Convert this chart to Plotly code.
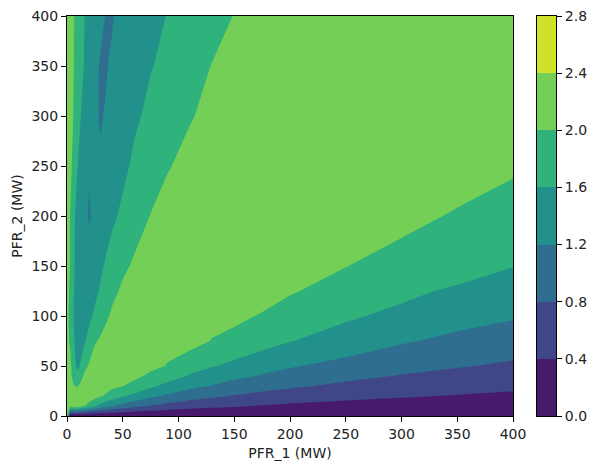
import plotly.graph_objects as go

# grid (MW)
pfr1_mw = [0, 3, 6, 9, 12, 16, 20, 25, 30, 35, 40, 50, 60, 75, 90,
           110, 130, 150, 175, 200, 250, 300, 350, 400]
pfr2_mw = [0, 10, 20, 30, 40, 50, 75, 100, 125, 150, 200, 250, 300, 350, 400]

# estimated value at each grid node, one row per PFR_2 value
z_rows = [
    [2.1, 0, 0, 0, 0, 0, 0, 0, 0, 0, 0, 0, 0, 0, 0, 0, 0, 0, 0, 0, 0, 0, 0, 0],
    [2.15, 2.1, 2.27, 2.26, 2.15, 2.02, 1.82, 1.64, 1.48, 1.34, 1.24, 1.05,
     0.92, 0.78, 0.67, 0.56, 0.49, 0.44, 0.38, 0.33, 0.27, 0.22, 0.19, 0.17],
    [2.15, 2.15, 2.1, 2.15, 2.27, 2.28, 2.25, 2.13, 2.04, 1.95, 1.82, 1.64,
     1.53, 1.29, 1.14, 0.98, 0.87, 0.78, 0.68, 0.61, 0.51, 0.44, 0.38, 0.33],
    [2.15, 2.1, 2.02, 1.98, 2.05, 2.22, 2.3, 2.27, 2.25, 2.16, 2.09, 2.01,
     1.82, 1.68, 1.48, 1.30, 1.18, 1.05, 0.94, 0.86, 0.72, 0.61, 0.54, 0.48],
    [2.15, 2.08, 1.88, 1.7, 1.88, 2.08, 2.2, 2.28, 2.28, 2.26, 2.25, 2.13,
     2.14, 1.88, 1.80, 1.57, 1.41, 1.29, 1.17, 1.05, 0.90, 0.78, 0.68, 0.61],
    [2.15, 2.1, 1.75, 1.52, 1.62, 1.9, 2.05, 2.25, 2.28, 2.3, 2.28, 2.25,
     2.15, 2.14, 1.975, 1.74, 1.62, 1.53, 1.34, 1.24, 1.05, 0.92, 0.83, 0.74],
    [2.1, 1.95, 1.65, 1.45, 1.5, 1.57, 1.72, 1.96, 2.06, 2.18, 2.22, 2.3,
     2.28, 2.25, 2.15, 2.16, 1.985, 1.82, 1.76, 1.61, 1.48, 1.24, 1.11, 1.0],
    [2.1, 1.9, 1.58, 1.38, 1.33, 1.42, 1.53, 1.66, 1.78, 1.92, 2.06, 2.2,
     2.27, 2.29, 2.26, 2.19, 2.11, 2.14, 1.95, 1.82, 1.64, 1.53, 1.34, 1.24],
    [2.1, 1.95, 1.63, 1.42, 1.33, 1.35, 1.41, 1.52, 1.64, 1.77, 1.88, 2.07,
     2.19, 2.27, 2.29, 2.26, 2.23, 2.15, 2.28, 2.04, 1.82, 1.67, 1.55, 1.42],
    [2.1, 1.99, 1.66, 1.45, 1.33, 1.28, 1.3, 1.38, 1.53, 1.65, 1.75, 1.92,
     2.05, 2.2, 2.27, 2.29, 2.26, 2.25, 2.2, 2.29, 2.01, 1.82, 1.76, 1.61],
    [2.1, 1.99, 1.68, 1.48, 1.35, 1.25, 1.18, 1.25, 1.33, 1.42, 1.52, 1.68,
     1.82, 2.01, 2.15, 2.25, 2.3, 2.29, 2.26, 2.25, 2.13, 2.14, 1.95, 1.82],
    [2.15, 2.1, 1.88, 1.64, 1.48, 1.35, 1.22, 1.23, 1.23, 1.28, 1.34, 1.5,
     1.67, 1.83, 1.97, 2.12, 2.21, 2.27, 2.3, 2.28, 2.25, 2.15, 2.25, 2.06],
    [2.15, 2.1, 1.99, 1.8, 1.62, 1.48, 1.37, 1.24, 1.18, 1.22, 1.28, 1.4,
     1.53, 1.69, 1.82, 1.97, 2.1, 2.2, 2.27, 2.3, 2.27, 2.25, 2.16, 2.09],
    [2.15, 2.1, 2.01, 1.85, 1.7, 1.57, 1.45, 1.3, 1.16, 1.18, 1.24, 1.36,
     1.46, 1.58, 1.69, 1.85, 2.01, 2.1, 2.2, 2.27, 2.29, 2.26, 2.25, 2.17],
    [2.15, 2.1, 2.02, 1.9, 1.77, 1.59, 1.5, 1.4, 1.3, 1.18, 1.17, 1.3,
     1.38, 1.5, 1.61, 1.74, 1.87, 2.01, 2.13, 2.2, 2.28, 2.29, 2.26, 2.25],
]

level_ticks = [0.0, 0.4, 0.8, 1.2, 1.6, 2.0, 2.4, 2.8]

# viridis sampled at band centres
band_colors = ["#471a6b", "#3f4788", "#2f6e8e", "#22908b",
               "#30b27c", "#73cf55", "#cfe129"]

# stepwise scale; band with lower level L is coloured at L/2.4
steps = [0, 0.12, 0.25, 5/12, 7/12, 0.75, 11/12, 1]
colorscale = []
for i, c in enumerate(band_colors):
    colorscale.append([steps[i], c])
    colorscale.append([steps[i + 1], c])

# page body has an 8px margin, so the figure is drawn 8px smaller
W, H = 590, 462
ML, MR, MT, MB = 59, 42, 8, 54
pw = W - ML - MR
main_dom = [0, 446 / pw]
cbar_dom = [470 / pw, 1]

fig = go.Figure()
fig.add_trace(go.Contour(
    x=pfr1_mw,
    y=pfr2_mw,
    z=z_rows,
    colorscale=colorscale,
    contours=dict(start=0.4, end=2.4, size=0.4, coloring="fill"),
    line=dict(width=0, smoothing=0),
    showscale=False,
))

# colour bar drawn as a stack of bars on its own axes
fig.add_trace(go.Bar(
    x=[0] * (len(level_ticks) - 1),
    y=[level_ticks[i + 1] - level_ticks[i] for i in range(len(level_ticks) - 1)],
    base=level_ticks[:-1],
    width=1,
    marker=dict(color=band_colors, line=dict(width=0)),
    xaxis="x2", yaxis="y2",
    hoverinfo="skip",
    showlegend=False,
))

tick_font = dict(size=14, color="#222")
axis_style = dict(
    range=[0, 400], dtick=50, tick0=0,
    showline=True, linecolor="black", linewidth=1.1, mirror=True,
    ticks="outside", ticklen=5, tickwidth=1.1, tickcolor="black",
    showgrid=False, zeroline=False, automargin=False,
    ticklabeloverflow="allow", tickfont=tick_font,
)

fig.update_layout(
    width=W, height=H,
    margin=dict(l=ML, r=MR, t=MT, b=MB),
    paper_bgcolor="white", plot_bgcolor="white",
    font=dict(family="DejaVu Sans"),
    xaxis=dict(axis_style, domain=main_dom,
               title=dict(text="PFR_1 (MW)", standoff=7, font=tick_font)),
    yaxis=dict(axis_style, domain=[0, 1],
               title=dict(text="PFR_2 (MW)", standoff=5, font=tick_font)),
    xaxis2=dict(domain=cbar_dom, anchor="y2", range=[-0.5, 0.5],
                showticklabels=False, ticks="", showgrid=False,
                zeroline=False, showline=True, linecolor="black",
                linewidth=1.1, mirror=True, automargin=False),
    yaxis2=dict(domain=[0, 1], anchor="x2", side="right", range=[0, 2.8],
                tickvals=level_ticks,
                ticktext=["%.1f" % v for v in level_ticks],
                ticks="outside", ticklen=5, tickwidth=1.1, tickcolor="black",
                showgrid=False, zeroline=False, showline=True,
                linecolor="black", linewidth=1.1, mirror=True,
                automargin=False, ticklabeloverflow="allow",
                tickfont=tick_font),
    bargap=0,
)

fig.write_html("out.html")
